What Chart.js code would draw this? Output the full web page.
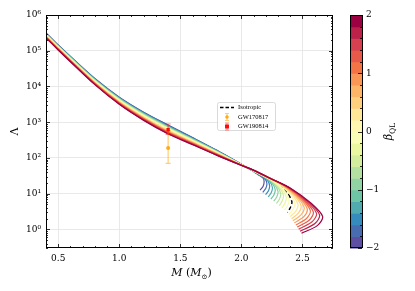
<!DOCTYPE html>
<html lang="en">
<head>
<meta charset="UTF-8" />
<title>Tidal deformability vs mass</title>
<script src="https://cdn.jsdelivr.net/npm/chart.js"></script>
<style>
  html, body { margin: 0; padding: 0; background: #fff; }
  canvas { display: block; }
</style>
</head>
<body>
<canvas id="chart" width="415" height="291"></canvas>
<script>
// anisotropy parameter of each curve (beta_QL), blue -> red
const betaValues = [-2, -1.8, -1.6, -1.4, -1.2, -1, -0.8, -0.6, -0.4, -0.2,
                    0.2, 0.4, 0.6, 0.8, 1, 1.2, 1.4, 1.6, 1.8, 2];

// shared mass grid (M_sun) for the smooth part of the curves
const massGrid = [0.4, 0.5, 0.6, 0.8, 1.0, 1.2, 1.4, 1.6, 1.8, 2.0];

// log10(Lambda) read on massGrid, one row per beta
const logLambdaMain = [
  [5.500, 5.160, 4.840, 4.220, 3.700, 3.280, 2.920, 2.570, 2.210, 1.820],
  [5.493, 5.153, 4.833, 4.212, 3.690, 3.269, 2.908, 2.560, 2.203, 1.819],
  [5.486, 5.146, 4.825, 4.203, 3.680, 3.257, 2.895, 2.550, 2.196, 1.817],
  [5.479, 5.139, 4.818, 4.195, 3.670, 3.246, 2.883, 2.540, 2.189, 1.816],
  [5.472, 5.132, 4.810, 4.186, 3.660, 3.234, 2.870, 2.530, 2.182, 1.814],
  [5.465, 5.125, 4.803, 4.178, 3.650, 3.223, 2.858, 2.520, 2.175, 1.813],
  [5.458, 5.118, 4.795, 4.169, 3.640, 3.211, 2.845, 2.510, 2.168, 1.811],
  [5.451, 5.111, 4.788, 4.161, 3.630, 3.200, 2.833, 2.500, 2.161, 1.810],
  [5.444, 5.104, 4.780, 4.152, 3.620, 3.188, 2.820, 2.490, 2.154, 1.808],
  [5.437, 5.097, 4.773, 4.144, 3.610, 3.177, 2.808, 2.480, 2.147, 1.807],
  [5.423, 5.083, 4.758, 4.127, 3.590, 3.154, 2.783, 2.460, 2.133, 1.804],
  [5.416, 5.076, 4.750, 4.118, 3.580, 3.142, 2.770, 2.450, 2.126, 1.802],
  [5.409, 5.069, 4.743, 4.110, 3.570, 3.131, 2.758, 2.440, 2.119, 1.801],
  [5.402, 5.062, 4.735, 4.101, 3.560, 3.119, 2.745, 2.430, 2.112, 1.799],
  [5.395, 5.055, 4.728, 4.093, 3.550, 3.108, 2.733, 2.420, 2.105, 1.798],
  [5.388, 5.048, 4.720, 4.084, 3.540, 3.096, 2.720, 2.410, 2.098, 1.796],
  [5.381, 5.041, 4.713, 4.076, 3.530, 3.085, 2.708, 2.400, 2.091, 1.795],
  [5.374, 5.034, 4.705, 4.067, 3.520, 3.073, 2.695, 2.390, 2.084, 1.793],
  [5.367, 5.027, 4.698, 4.059, 3.510, 3.062, 2.683, 2.380, 2.077, 1.792],
  [5.360, 5.020, 4.690, 4.050, 3.500, 3.050, 2.670, 2.370, 2.070, 1.790]
];

// high-mass part of each curve (up to maximum mass and back), mass and log10(Lambda)
const tailMass = [
  [2.095, 2.120, 2.145, 2.178, 2.186, 2.178, 2.153],
  [2.095, 2.127, 2.158, 2.197, 2.209, 2.200, 2.175],
  [2.095, 2.133, 2.171, 2.216, 2.231, 2.223, 2.198],
  [2.095, 2.140, 2.185, 2.235, 2.254, 2.245, 2.220],
  [2.095, 2.146, 2.198, 2.254, 2.277, 2.267, 2.242],
  [2.095, 2.153, 2.211, 2.273, 2.300, 2.290, 2.265],
  [2.095, 2.160, 2.224, 2.292, 2.322, 2.312, 2.287],
  [2.095, 2.166, 2.237, 2.311, 2.345, 2.334, 2.309],
  [2.095, 2.173, 2.251, 2.330, 2.368, 2.356, 2.331],
  [2.095, 2.179, 2.264, 2.349, 2.390, 2.379, 2.354],
  [2.095, 2.192, 2.290, 2.389, 2.438, 2.423, 2.388],
  [2.095, 2.198, 2.303, 2.409, 2.463, 2.446, 2.399],
  [2.095, 2.203, 2.317, 2.430, 2.489, 2.468, 2.411],
  [2.095, 2.209, 2.330, 2.450, 2.514, 2.490, 2.422],
  [2.095, 2.215, 2.343, 2.471, 2.539, 2.513, 2.434],
  [2.095, 2.221, 2.356, 2.492, 2.564, 2.535, 2.446],
  [2.095, 2.227, 2.369, 2.512, 2.589, 2.557, 2.457],
  [2.095, 2.232, 2.383, 2.533, 2.615, 2.579, 2.469],
  [2.095, 2.238, 2.396, 2.553, 2.640, 2.602, 2.480],
  [2.095, 2.244, 2.409, 2.574, 2.665, 2.624, 2.492]
];
const tailLogLambda = [
  [1.630, 1.570, 1.514, 1.431, 1.333, 1.208, 1.097],
  [1.632, 1.563, 1.496, 1.394, 1.278, 1.148, 1.035],
  [1.634, 1.556, 1.478, 1.356, 1.222, 1.089, 0.972],
  [1.635, 1.549, 1.460, 1.319, 1.167, 1.029, 0.910],
  [1.637, 1.542, 1.442, 1.281, 1.111, 0.969, 0.847],
  [1.639, 1.535, 1.424, 1.244, 1.056, 0.910, 0.785],
  [1.641, 1.528, 1.405, 1.206, 1.000, 0.850, 0.722],
  [1.642, 1.521, 1.387, 1.169, 0.945, 0.790, 0.660],
  [1.644, 1.514, 1.369, 1.131, 0.889, 0.730, 0.597],
  [1.646, 1.507, 1.351, 1.094, 0.834, 0.671, 0.535],
  [1.649, 1.492, 1.314, 1.023, 0.736, 0.561, 0.414],
  [1.651, 1.483, 1.294, 0.989, 0.695, 0.511, 0.355],
  [1.653, 1.475, 1.275, 0.956, 0.653, 0.461, 0.297],
  [1.655, 1.467, 1.255, 0.922, 0.611, 0.411, 0.239],
  [1.656, 1.459, 1.236, 0.889, 0.570, 0.361, 0.181],
  [1.658, 1.450, 1.217, 0.856, 0.528, 0.311, 0.122],
  [1.660, 1.442, 1.197, 0.822, 0.486, 0.261, 0.064],
  [1.662, 1.434, 1.178, 0.789, 0.444, 0.211, 0.006],
  [1.663, 1.425, 1.158, 0.755, 0.403, 0.161, -0.053],
  [1.665, 1.417, 1.139, 0.722, 0.361, 0.111, -0.111]
];

// isotropic star (dashed)
const isoLogLambdaMain = [5.430, 5.090, 4.765, 4.135, 3.600, 3.165, 2.795, 2.470, 2.140, 1.805];
const isoTailMass = [2.095, 2.186, 2.277, 2.368, 2.413, 2.401, 2.376];
const isoTailLogLambda = [1.648, 1.500, 1.333, 1.056, 0.778, 0.611, 0.472];

// observational constraints on Lambda_1.4
const gwNames = ['GW170817', 'GW190814'];
const gwMass = [1.4, 1.4];
const gwLambda = [190, 616];
const gwUpper = [390, 273];
const gwLower = [120, 158];

const xTicks = [0.5, 1.0, 1.5, 2.0, 2.5];
const yTicks = [1, 10, 100, 1e3, 1e4, 1e5, 1e6];
const yTickLabels = ['10⁰', '10¹', '10²', '10³', '10⁴', '10⁵', '10⁶'];
const cbTicks = [-2, -1, 0, 1, 2];
const cbTickLabels = ['−2', '−1', '0', '1', '2'];

// Spectral colormap (reversed when used)
const spectral = ['#9e0142', '#d53e4f', '#f46d43', '#fdae61', '#fee08b', '#ffffbf',
                  '#e6f598', '#abdda4', '#66c2a5', '#3288bd', '#5e4fa2'];
function hexRgb(h) {
  return [1, 3, 5].map(i => parseInt(h.substr(i, 2), 16));
}
function spectralR(t) {
  const s = (1 - t) * 10;
  const k = Math.min(9, Math.floor(s));
  const f = s - k;
  const a = hexRgb(spectral[k]), b = hexRgb(spectral[k + 1]);
  const c = a.map((v, i) => Math.round(v + (b[i] - v) * f));
  return `rgb(${c[0]},${c[1]},${c[2]})`;
}
const gwLine = ['rgba(255,165,0,0.55)', 'rgba(255,0,0,0.45)'];
const gwFill = ['rgba(255,165,0,0.9)', 'rgba(255,0,0,0.95)'];

function toPoints(masses, logs) {
  return masses.map((m, k) => ({ x: m, y: 10 ** logs[k] }));
}

const datasets = [];
gwNames.forEach((name, i) => {
  datasets.push({
    label: name,
    gwIndex: i,
    data: [{ x: gwMass[i], y: gwLambda[i] }],
    pointStyle: i === 0 ? 'circle' : 'rect',
    pointRadius: i === 0 ? 2 : 2.4,
    backgroundColor: gwFill[i],
    borderWidth: 0,
    order: -i
  });
});
betaValues.forEach((b, i) => {
  datasets.push({
    label: 'beta ' + b,
    data: toPoints(massGrid, logLambdaMain[i]).concat(toPoints(tailMass[i], tailLogLambda[i])),
    showLine: true,
    borderColor: spectralR(i / 19),
    borderWidth: 1.2,
    pointRadius: 0,
    tension: 0.3,
    fill: false,
    order: 50 - i
  });
});
datasets.push({
  label: 'Isotropic',
  data: toPoints(massGrid, isoLogLambdaMain).concat(toPoints(isoTailMass, isoTailLogLambda)),
  showLine: true,
  borderColor: '#000',
  borderWidth: 1.4,
  borderDash: [4, 2.5],
  pointRadius: 0,
  tension: 0.3,
  fill: false,
  order: 100
});

function errorBar(ctx, px, yTop, yBot, color, cap) {
  ctx.save();
  ctx.strokeStyle = color;
  ctx.lineWidth = 1.2;
  ctx.beginPath();
  ctx.moveTo(px, yTop); ctx.lineTo(px, yBot);
  ctx.moveTo(px - cap, yTop); ctx.lineTo(px + cap, yTop);
  ctx.moveTo(px - cap, yBot); ctx.lineTo(px + cap, yBot);
  ctx.stroke();
  ctx.restore();
}

const decor = {
  id: 'decor',
  beforeDatasetDraw(chart, args) {
    const ds = chart.data.datasets[args.index];
    if (ds.gwIndex === undefined) return;
    const i = ds.gwIndex;
    const { x, y } = chart.scales;
    const px = x.getPixelForValue(gwMass[i]);
    errorBar(chart.ctx, px, y.getPixelForValue(gwLambda[i] + gwUpper[i]),
             y.getPixelForValue(gwLambda[i] - gwLower[i]), gwLine[i], 2.5);
  },
  afterDraw(chart) {
    const { ctx, chartArea: a, scales: { x, y } } = chart;
    ctx.save();

    // inward ticks on all four sides
    ctx.strokeStyle = '#000';
    ctx.lineWidth = 0.8;
    ctx.beginPath();
    for (let k = 4; k <= 27; k++) {
      const px = Math.round(x.getPixelForValue(k / 10)) + 0.5;
      const len = k % 5 === 0 ? 4 : 2;
      ctx.moveTo(px, a.bottom); ctx.lineTo(px, a.bottom - len);
      ctx.moveTo(px, a.top); ctx.lineTo(px, a.top + len);
    }
    for (let e = -1; e <= 6; e++) {
      for (let k = 1; k <= 9; k++) {
        const v = k * Math.pow(10, e);
        if (v < y.min || v > y.max * 1.001) continue;
        const py = Math.round(y.getPixelForValue(v)) + 0.5;
        const len = k === 1 ? 4 : 2;
        ctx.moveTo(a.left, py); ctx.lineTo(a.left + len, py);
        ctx.moveTo(a.right, py); ctx.lineTo(a.right - len, py);
      }
    }
    ctx.stroke();
    ctx.lineWidth = 1;
    ctx.strokeRect(Math.round(a.left) + 0.5, Math.round(a.top) + 0.5,
                   Math.round(a.width) - 1, Math.round(a.height) - 1);

    // axis titles
    ctx.fillStyle = '#000';
    ctx.textBaseline = 'middle';
    ctx.textAlign = 'center';
    ctx.save();
    ctx.translate(15, (a.top + a.bottom) / 2);
    ctx.rotate(-Math.PI / 2);
    ctx.font = '11px "DejaVu Serif"';
    ctx.fillText('Λ', 0, 0);
    ctx.restore();

    const parts = [
      ['M', 'italic 11px "DejaVu Serif"', 0],
      [' (', '11px "DejaVu Serif"', 0],
      ['M', 'italic 11px "DejaVu Serif"', 0],
      ['⊙', '7px "DejaVu Serif"', 3],
      [')', '11px "DejaVu Serif"', 0]
    ];
    let total = 0;
    parts.forEach(p => { ctx.font = p[1]; p.push(ctx.measureText(p[0]).width); total += p[3]; });
    let cx = (a.left + a.right) / 2 + 2 - total / 2;
    ctx.textAlign = 'left';
    ctx.textBaseline = 'alphabetic';
    parts.forEach(p => { ctx.font = p[1]; ctx.fillText(p[0], cx, 276 + p[2]); cx += p[3]; });

    // colorbar
    const cbX = 350, cbW = 12, cbTop = a.top, cbBot = a.bottom;
    const n = 20, h = (cbBot - cbTop) / n;
    for (let j = 0; j < n; j++) {
      ctx.fillStyle = spectralR(j / 19);
      ctx.fillRect(cbX, cbBot - (j + 1) * h, cbW, h + 0.6);
    }
    ctx.strokeStyle = '#000';
    ctx.lineWidth = 1;
    ctx.strokeRect(cbX + 0.5, Math.round(cbTop) + 0.5, cbW, Math.round(cbBot - cbTop) - 1);
    ctx.lineWidth = 0.8;
    ctx.beginPath();
    for (let j = 0; j <= 20; j++) {
      const py = Math.round(cbBot - j * h) + 0.5;
      const len = j % 5 === 0 ? 4 : 2;
      ctx.moveTo(cbX + cbW, py); ctx.lineTo(cbX + cbW - len, py);
    }
    ctx.stroke();
    ctx.fillStyle = '#000';
    ctx.font = '9px "DejaVu Serif"';
    ctx.textAlign = 'left';
    ctx.textBaseline = 'middle';
    cbTicks.forEach((v, i) => {
      const py = cbBot - (v + 2) / 4 * (cbBot - cbTop);
      ctx.fillText(cbTickLabels[i], cbX + cbW + 4, py);
    });
    ctx.save();
    ctx.translate(389, (a.top + a.bottom) / 2);
    ctx.rotate(-Math.PI / 2);
    ctx.font = 'italic 11px "DejaVu Serif"';
    const wb = ctx.measureText('β').width;
    ctx.font = '7.5px "DejaVu Serif"';
    const wq = ctx.measureText('QL').width;
    const sx = -(wb + wq) / 2;
    ctx.textBaseline = 'alphabetic';
    ctx.font = 'italic 11px "DejaVu Serif"';
    ctx.fillText('β', sx, 3);
    ctx.font = '7.5px "DejaVu Serif"';
    ctx.fillText('QL', sx + wb, 5.5);
    ctx.restore();

    // legend
    const lx = 217.5, ly = 102.5, lw = 58, lh = 28;
    ctx.fillStyle = 'rgba(255,255,255,0.85)';
    ctx.strokeStyle = '#d0d0d0';
    ctx.lineWidth = 0.8;
    ctx.beginPath();
    ctx.roundRect(lx, ly, lw, lh, 2);
    ctx.fill();
    ctx.stroke();
    const rows = [107.5, 117, 126.5];
    ctx.strokeStyle = '#000';
    ctx.lineWidth = 1.4;
    ctx.setLineDash([3.5, 2]);
    ctx.beginPath();
    ctx.moveTo(220, rows[0]); ctx.lineTo(234, rows[0]);
    ctx.stroke();
    ctx.setLineDash([]);
    gwNames.forEach((name, i) => {
      const ry = rows[i + 1];
      errorBar(ctx, 227, ry - 3.5, ry + 3.5, gwLine[i], 2);
      ctx.fillStyle = gwFill[i];
      if (i === 0) {
        ctx.beginPath(); ctx.arc(227, ry, 1.8, 0, Math.PI * 2); ctx.fill();
      } else {
        ctx.fillRect(225, ry - 2, 4, 4);
      }
    });
    ctx.fillStyle = '#000';
    ctx.font = '6.5px "Liberation Serif"';
    ctx.textAlign = 'left';
    ctx.textBaseline = 'middle';
    ['Isotropic'].concat(gwNames).forEach((t, i) => ctx.fillText(t, 238, rows[i]));

    ctx.restore();
  }
};

new Chart(document.getElementById('chart'), {
  type: 'scatter',
  data: { datasets },
  options: {
    responsive: false,
    animation: false,
    layout: { padding: { top: 15, right: 82, bottom: 0, left: 0 } },
    plugins: { legend: { display: false }, tooltip: { enabled: false } },
    scales: {
      x: {
        type: 'linear',
        min: 0.4,
        max: 2.75,
        afterBuildTicks: s => { s.ticks = xTicks.map(v => ({ value: v })); },
        afterFit: s => { s.height = 43; },
        grid: { color: '#e3e3e3', lineWidth: 0.8, drawTicks: false },
        border: { display: false },
        ticks: {
          color: '#000',
          font: { family: 'DejaVu Serif', size: 9 },
          padding: 5,
          maxRotation: 0,
          autoSkip: false,
          callback: v => Number(v).toFixed(1)
        }
      },
      y: {
        type: 'logarithmic',
        min: 0.33,
        max: 1e6,
        afterBuildTicks: s => { s.ticks = yTicks.map(v => ({ value: v })); },
        afterFit: s => { s.width = 46; },
        grid: { color: '#e3e3e3', lineWidth: 0.8, drawTicks: false },
        border: { display: false },
        ticks: {
          color: '#000',
          font: { family: 'DejaVu Serif', size: 9 },
          padding: 5,
          autoSkip: false,
          callback: (v, i) => yTickLabels[i]
        }
      }
    }
  },
  plugins: [decor]
});
</script>
</body>
</html>
